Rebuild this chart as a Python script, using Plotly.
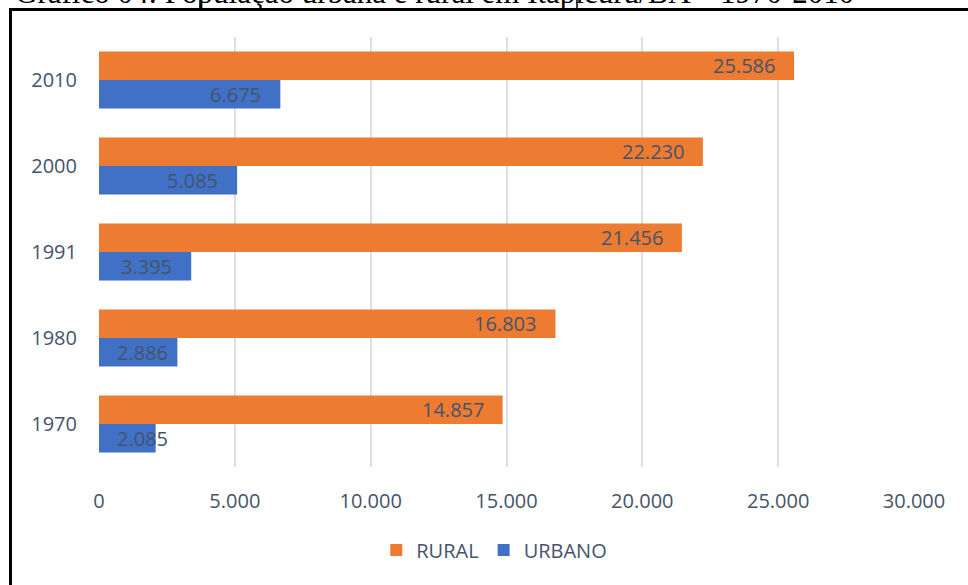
import plotly.graph_objects as go

anos = ["1970", "1980", "1991", "2000", "2010"]
rural = [14857, 16803, 21456, 22230, 25586]
urbano = [2085, 2886, 3395, 5085, 6675]
ticks_x = [0, 5000, 10000, 15000, 20000, 25000, 30000]
ticks_x_txt = ["0", "5.000", "10.000", "15.000", "20.000", "25.000", "30.000"]
titulo = "Gráfico 04: População urbana e rural em Itapicuru/BA – 1970-2010"

def fmt(v):
    return f"{v:,}".replace(",", ".")

COR_RURAL = "#ED7B32"
COR_URBANO = "#4171C6"
TXT = "#44546A"
FONT = "Open Sans"

W, H = 968, 585
ML, MR, MT, MB = 99, 54, 37, 118
PW = W - ML - MR
PH = H - MT - MB
XMAX = 30000

def px2x(p):
    return (p - ML) / PW
def py2y(p):
    return (H - MB - p) / PH

fig = go.Figure()
fig.add_trace(go.Bar(y=anos, x=urbano, orientation="h", name="URBANO",
                     marker=dict(color=COR_URBANO, line=dict(width=0)), hoverinfo="x"))
fig.add_trace(go.Bar(y=anos, x=rural, orientation="h", name="RURAL",
                     marker=dict(color=COR_RURAL, line=dict(width=0)), hoverinfo="x"))

# value labels (inside end)
ann = []
for serie, shift in ((rural, 14.5), (urbano, -14.5)):
    for i, v in enumerate(serie):
        txt = fmt(v)
        px = v * PW / XMAX
        tw = len(txt) * 10.3
        if px - 17 - tw < 16:
            ann.append(dict(x=0, y=i, xref="x", yref="y", text=txt, showarrow=False,
                            xanchor="left", xshift=16, yshift=shift,
                            font=dict(family=FONT, size=20, color=TXT)))
        else:
            ann.append(dict(x=v, y=i, xref="x", yref="y", text=txt, showarrow=False,
                            xanchor="right", xshift=-17, yshift=shift,
                            font=dict(family=FONT, size=20, color=TXT)))

# partially visible title above the frame
ann.append(dict(x=px2x(13), y=py2y(-8), xref="paper", yref="paper",
                text=titulo, showarrow=False, xanchor="left", yanchor="middle",
                font=dict(family="Liberation Serif", size=31, color="black")))

shapes = [
    dict(type="rect", xref="paper", yref="paper", x0=px2x(10.5), x1=px2x(1100),
         y0=py2y(700), y1=py2y(9.5), line=dict(color="black", width=3),
         fillcolor="rgba(0,0,0,0)", layer="above"),
    dict(type="line", xref="paper", yref="paper", x0=px2x(200), x1=px2x(200),
         y0=py2y(9), y1=py2y(-5), line=dict(color="black", width=1.5)),
    dict(type="line", xref="paper", yref="paper", x0=px2x(577), x1=px2x(577),
         y0=py2y(9), y1=py2y(-5), line=dict(color="black", width=1.5)),
]

fig.update_layout(
    width=W, height=H,
    margin=dict(l=ML, r=MR, t=MT, b=MB, pad=0, autoexpand=False),
    paper_bgcolor="white", plot_bgcolor="white",
    barmode="group", bargap=0.335, bargroupgap=0,
    font=dict(family=FONT, size=20, color=TXT),
    showlegend=True,
    legend=dict(orientation="h", x=0.485, xanchor="center", y=py2y(550), yanchor="middle",
                traceorder="reversed", font=dict(family=FONT, size=20, color=TXT),
                bgcolor="rgba(0,0,0,0)"),
    annotations=ann, shapes=shapes,
)
fig.update_xaxes(range=[0, XMAX], autorange=False, tickvals=ticks_x, ticktext=ticks_x_txt,
                 showgrid=True, gridcolor="#D9DEE7", gridwidth=1.5, zeroline=False,
                 showline=False, ticks="", ticklabelstandoff=20, automargin=False,
                 tickfont=dict(family=FONT, size=20, color=TXT), fixedrange=True)
fig.update_yaxes(type="category", categoryorder="array", categoryarray=anos,
                 range=[-0.5, len(anos) - 0.5], autorange=False,
                 showgrid=False, zeroline=False, showline=False, ticks="", automargin=False,
                 ticklabelstandoff=21, tickfont=dict(family=FONT, size=20, color=TXT),
                 fixedrange=True)

fig.write_html("out.html", config={"displayModeBar": False},
               post_script="document.body.style.margin='0';document.body.style.overflow='hidden';")
